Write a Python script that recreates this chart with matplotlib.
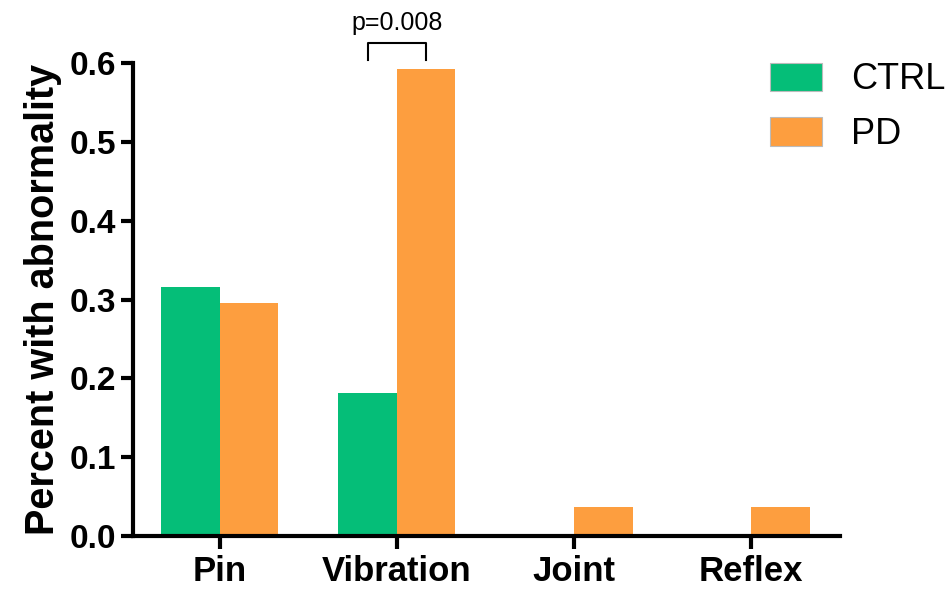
import numpy as np
import matplotlib.pyplot as plt

plt.rcParams['font.family'] = ['Liberation Sans', 'DejaVu Sans']

categories = ['Pin', 'Vibration', 'Joint', 'Reflex']
ctrl = [0.316, 0.182, 0.0, 0.0]
pd_vals = [0.296, 0.593, 0.037, 0.037]
groups = ['CTRL', 'PD']
colors = ['#05BE78', '#FD9E3F']
p_label = 'p=0.008'

fig = plt.figure(figsize=(9.5, 5.89), dpi=100)
ax = fig.add_axes([0.14, 0.09, 0.744, 0.803])

x = np.arange(len(categories))
w = 0.33
ax.bar(x - w / 2, ctrl, w, color=colors[0], label=groups[0])
ax.bar(x + w / 2, pd_vals, w, color=colors[1], label=groups[1])

ax.set_xlim(-0.49, 3.5)
ax.set_ylim(0, 0.6)
ax.set_yticks(np.arange(0, 0.61, 0.1))
ax.set_yticklabels(['%.1f' % v for v in np.arange(0, 0.61, 0.1)])
ax.set_xticks(x)
ax.set_xticklabels(categories)

for s in ['top', 'right']:
    ax.spines[s].set_visible(False)
for s in ['left', 'bottom']:
    ax.spines[s].set_linewidth(3)
ax.tick_params(axis='both', width=3, length=9, labelsize=24)
ax.tick_params(axis='x', pad=5, labelsize=25)
for lab in ax.get_xticklabels() + ax.get_yticklabels():
    lab.set_fontweight('bold')

ax.set_ylabel('Percent with abnormality', fontsize=28.5, fontweight='bold', labelpad=5)

# significance bracket over Vibration
x1, x2 = x[1] - w / 2, x[1] + w / 2
ax.plot([x1, x1, x2, x2], [0.604, 0.625, 0.625, 0.604], color='black', lw=1.5, clip_on=False)
ax.text((x1 + x2) / 2, 0.635, p_label, ha='center', va='bottom', fontsize=18)

leg = ax.legend(loc='upper left', bbox_to_anchor=(0.855, 1.07), frameon=False,
                fontsize=26, handlelength=1.45, handleheight=0.85, handletextpad=0.8,
                labelspacing=0.55)
for h in leg.legend_handles:
    h.set_edgecolor('#bbbbbb')
    h.set_linewidth(0.8)

fig.savefig('out.png', dpi=100)
